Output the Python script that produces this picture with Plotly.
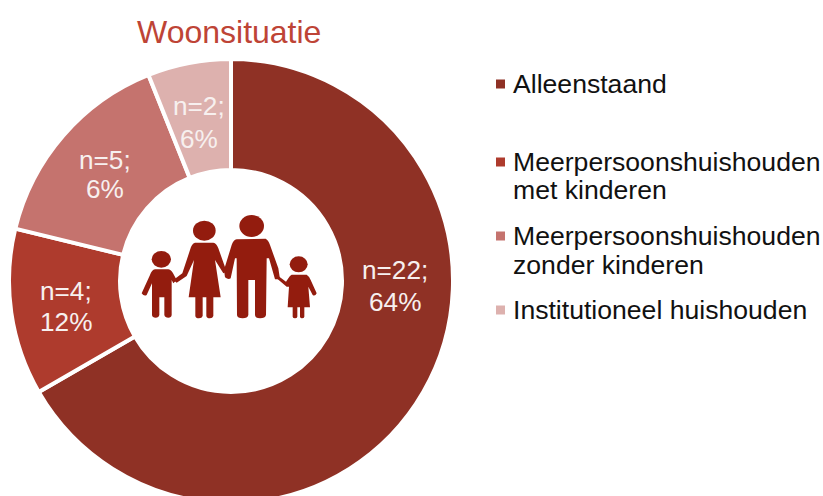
import re
import plotly.graph_objects as go

title = "Woonsituatie"
categories = ["Alleenstaand", "Meerpersoonshuishouden<br>met kinderen",
              "Meerpersoonshuishouden<br>zonder kinderen", "Institutioneel huishouden"]
counts = [22, 4, 5, 2]
shown_pct = [64, 12, 6, 6]
colors = ["#8F3125", "#AE3B2D", "#C5736E", "#DDB1AE"]
legend_line_y = [[84], [162, 190], [236, 265], [310]]
# centre x, first line y, second line y of each slice label
label_pos = [(395, 270, 302), (66, 291, 322), (105, 160, 189), (199, 106, 139)]

W, H = 823, 504
TEXT = "#111111"
FONT = "Liberation Sans, Arial, sans-serif"
ICON = "#931C0E"

fig = go.Figure(go.Pie(
    values=counts, labels=categories, sort=False, direction="clockwise", rotation=0,
    hole=0.5, marker=dict(colors=colors, line=dict(color="white", width=4)),
    textinfo="none",
    domain=dict(x=[9/W, 453/W], y=[1/H, 1-59/H]), showlegend=False, hoverinfo="label+value"))

def px(x, y):
    return x/W, 1-y/H

def zoom_path(d):
    # icon outline, written in pixels of the picture (crop offset 120,190 at 3x)
    def rep(m):
        x, y = px(float(m[1])/3+120, float(m[2])/3+190)
        return f"{x:.5f},{y:.5f}"
    return re.sub(r"(-?[\d.]+),(-?[\d.]+)", rep, d)

bodies = [
 "M350,148 L437,146 Q445,150 450,165 L475,235 L480,268 L465,268 L447,205 L440,205 L438,375 Q436,385 420,385 Q406,385 405,375 L405,270 L385,270 L385,375 Q383,385 368,385 Q352,385 351,375 L350,205 L345,205 L332,265 Q325,270 315,262 L312,240 L335,165 Q340,150 350,148 Z",
 "M225,158 L280,158 Q290,160 295,175 L320,245 L310,250 L285,210 L302,322 L280,322 L280,378 Q278,385 270,385 Q260,385 259,378 L259,322 L248,322 L248,378 Q246,385 237,385 Q227,385 226,378 L226,322 L206,322 L222,210 L200,258 L170,278 L160,270 L187,250 L210,180 Q215,160 225,158 Z",
 "M105,238 L145,238 Q155,240 162,255 L170,270 L160,280 L155,270 L155,375 Q154,383 145,383 Q135,383 133,375 L133,322 L118,322 L118,375 Q116,383 107,383 Q97,383 96,375 L96,280 L80,315 Q72,320 65,310 L90,255 Q95,240 105,238 Z",
 "M515,254 L560,254 Q567,258 572,270 L590,310 Q585,320 578,315 L565,290 L570,352 L553,352 L553,380 Q552,385 546,385 Q541,385 540,380 L540,352 L532,352 L532,380 Q531,385 525,385 Q519,385 518,380 L518,352 L503,352 L507,290 L500,290 L470,265 L478,260 L498,275 L505,265 Q510,256 515,254 Z",
]
heads = [(395,108,37,33), (253,122,34,30), (124,208,29,25), (536,223,27,24)]

shapes = [dict(type="path", path=zoom_path(b), xref="paper", yref="paper",
               fillcolor=ICON, line=dict(width=0)) for b in bodies]
for cx, cy, rx, ry in heads:
    x0, y0 = px((cx-rx)/3+120, (cy-ry)/3+190)
    x1, y1 = px((cx+rx)/3+120, (cy+ry)/3+190)
    shapes.append(dict(type="circle", x0=x0, x1=x1, y0=y0, y1=y1, xref="paper", yref="paper",
                       fillcolor=ICON, line=dict(width=0)))

def note(text, x, y, size, color, anchor="center"):
    xp, yp = px(x, y)
    return dict(text=text, x=xp, y=yp, xref="paper", yref="paper", showarrow=False,
                xanchor=anchor, yanchor="middle", borderpad=0,
                font=dict(family=FONT, size=size, color=color))

annotations = [note(title, 229, 32, 32, "#BE4436")]
for cat, col, ys in zip(categories, colors, legend_line_y):
    for line, ly in zip(cat.split("<br>"), ys):
        annotations.append(note(line, 512, ly, 26.6, TEXT, "left"))
    x0, y0 = px(496, ys[0]-4.5)
    x1, y1 = px(505, ys[0]+4.5)
    shapes.append(dict(type="rect", x0=x0, x1=x1, y0=y0, y1=y1, xref="paper", yref="paper",
                       fillcolor=col, line=dict(width=0)))
for n, p, (lx, y1, y2) in zip(counts, shown_pct, label_pos):
    annotations.append(note(f"n={n};", lx, y1, 26.2, "#F7F0EF"))
    annotations.append(note(f"{p}%", lx, y2, 26.2, "#F7F0EF"))

fig.update_layout(width=W, height=H, autosize=False, margin=dict(l=0, r=0, t=0, b=0),
                  paper_bgcolor="white", plot_bgcolor="white",
                  shapes=shapes, annotations=annotations)
fig.write_html("out.html", config=dict(displayModeBar=False),
               post_script="document.body.style.margin='0';document.body.style.overflow='hidden';")
